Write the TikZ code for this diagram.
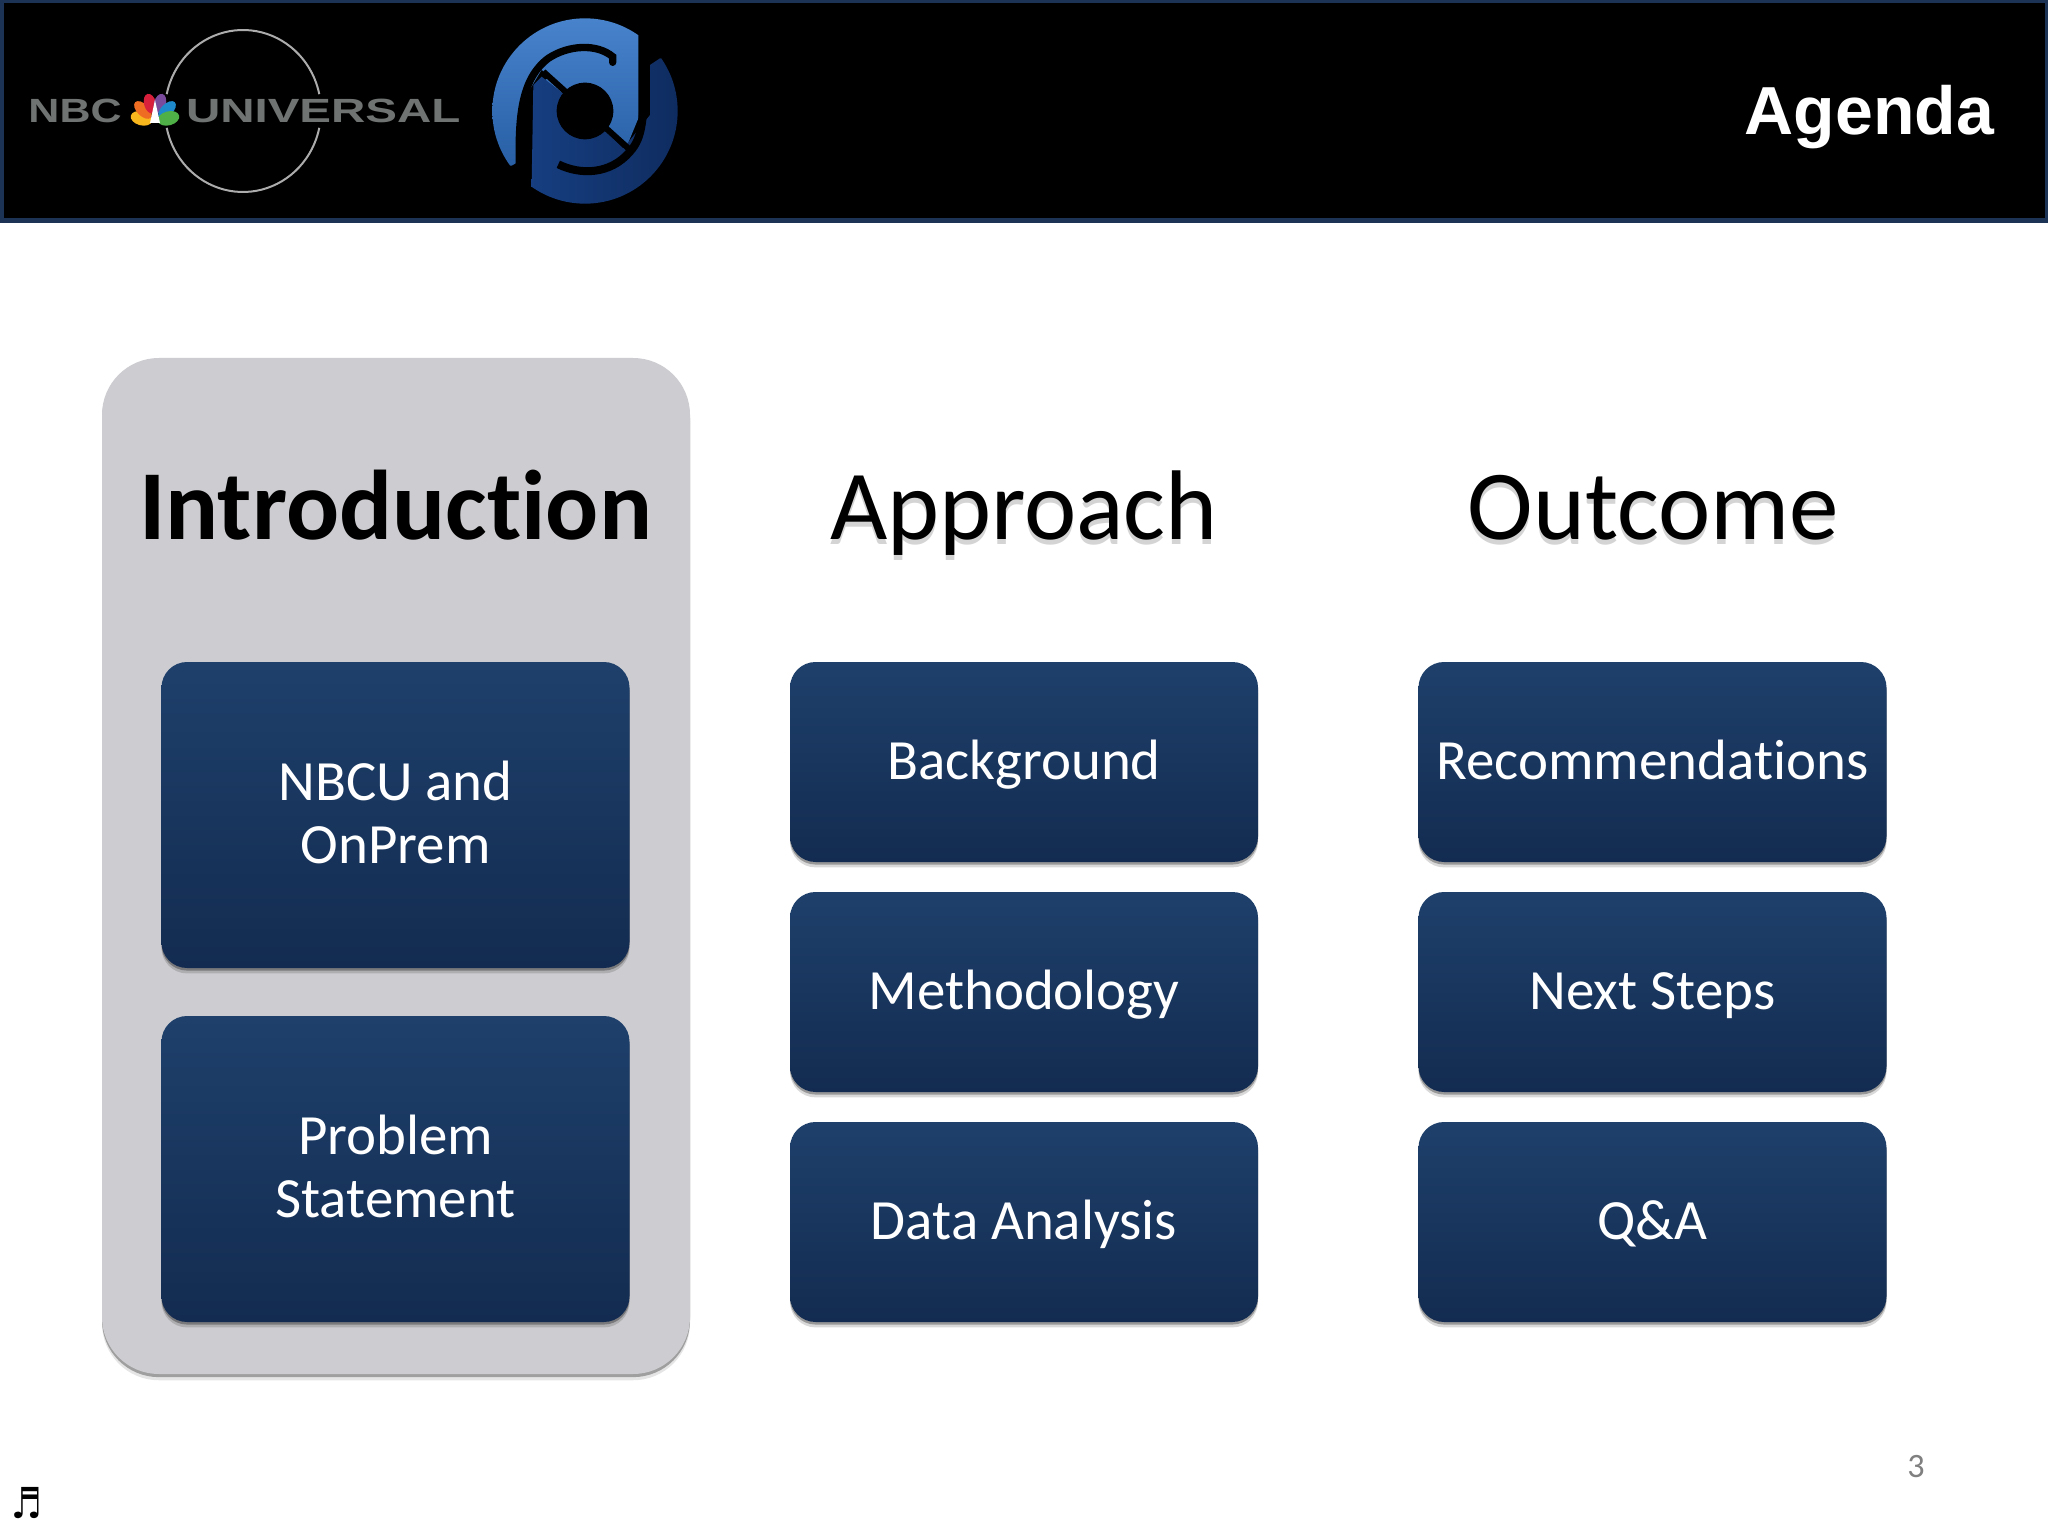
\documentclass[tikz,border=0pt]{standalone}
\usepackage{fontspec}
\usepackage{xcolor}
\usetikzlibrary{positioning,shadows}
\setmainfont{Carlito}[Ligatures=NoCommon]
\newfontfamily\headfont{Liberation Sans}
\newfontfamily\symbfont{DejaVu Sans}
\definecolor{barblue}{HTML}{1C3355}
\definecolor{boxtop}{HTML}{1E406B}
\definecolor{boxbottom}{HTML}{132B50}
\definecolor{panelgrey}{HTML}{CDCDD1}
\definecolor{logogrey}{HTML}{6F7371}
\definecolor{logolight}{RGB}{74,134,207}
\definecolor{logomid}{RGB}{40,95,165}
\definecolor{logodark}{RGB}{22,62,128}
\definecolor{logodeep}{RGB}{14,42,92}
\newcommand{\px}{0.3515625pt}
\newcommand{\softtext}[1]{\rlap{\raisebox{-1.5pt}{\color{black!17}#1}}#1}

\begin{document}
\begin{tikzpicture}[
	x=\px, y=-\px,
	every node/.style={outer sep=0pt, inner sep=0pt},
	panel/.style={fill=panelgrey, rounded corners=20pt, minimum width=588*\px, minimum height=1016*\px,
		drop shadow={shadow xshift=0pt, shadow yshift=-1.1pt, fill=black, opacity=.3},
		drop shadow={shadow xshift=0pt, shadow yshift=-2.2pt, fill=black, opacity=.1}},
	topic/.style={rounded corners=9pt, top color=boxtop, bottom color=boxbottom, text=white, align=center,
		minimum width=468*\px, font=\fontsize{20}{22}\selectfont,
		drop shadow={shadow xshift=0pt, shadow yshift=-.9pt, fill=black, opacity=.3},
		drop shadow={shadow xshift=0pt, shadow yshift=-1.9pt, fill=black, opacity=.15}},
	tall/.style={topic, minimum height=306*\px, text depth=1.9pt},
	small/.style={topic, minimum height=200*\px, text height=14pt, text depth=2pt},
	heading/.style={anchor=base, font=\fontsize{34.8}{40}\selectfont},
	]
	
	\useasboundingbox (0,0) rectangle (2048,1536);
	\fill[white] (0,0) rectangle (2048,1536);
	
	% Header bar
	\draw[fill=black, draw=barblue, line width=5*\px] (1,1) rectangle (2047,221);
	\node (agenda) [anchor=base east, text=white, font=\headfont\bfseries\fontsize{23.9}{28}\selectfont] at (1994,135) {Agenda};
	
	% NBC Universal logo
	\node (nbc) [anchor=base west, text=logogrey, xscale=1.28, font=\headfont\bfseries\fontsize{11.8}{14}\selectfont] at (28.5,123) {NBC};
	\node (universal) [anchor=base west, text=logogrey, xscale=1.415, font=\headfont\bfseries\fontsize{11.8}{14}\selectfont] at (186,123) {UNIVERSAL};
	\draw[gray!65, line width=2*\px] plot[domain=192:348, samples=40] ({243+78*cos(\x)},{111+81*sin(\x)});
	\draw[gray!65, line width=2*\px] plot[domain=12:168, samples=40] ({243+78*cos(\x)},{111+81*sin(\x)});
	\foreach \a/\d/\rx/\ry/\c in {165/14/11/7/F9B71E, 135/17/11/6/EF6C23, 105/19/10/6/D8203C, 75/19/10/6/7A4A9C, 45/17/11/6/1F8ACB, 15/14/11/7/4FB047}{
		\definecolor{petal}{HTML}{\c}
		\fill[petal, shift={(155,122)}, rotate=\a] (\d,0) ellipse ({\rx} and {\ry});
	}
	\fill[white] (150,123) -- (155,100) -- (160,123) -- cycle;
	
	% Blue logo, coordinates as read off a 3x crop
	\begin{scope}[shift={(480,5)}, x=\px/3, y=-\px/3]
		\clip (315,318) circle (278);
		\path[top color=logolight, bottom color=logomid]
			(95,482) -- (125,465) -- (315,318) -- (440,425) -- (475,340) -- (475,92) -- (475,0) -- (0,0) -- (0,482) -- cycle;
		\fill[black] (108,490) -- (122,300) -- (185,195) -- (210,215) -- (165,245) -- (155,540) -- cycle;
		\path[left color=logodark, right color=logodeep]
			(155,535) -- (160,240) -- (185,215) -- (315,318) -- (430,430) -- (510,330) -- (510,180) -- (540,160) -- (640,160) -- (640,640) -- (155,640) -- cycle;
		\draw[black, line width=22*\px/3, line cap=round] (118,480) .. controls (115,330) and (125,220) .. (205,160) .. controls (265,120) and (350,115) .. (398,155) -- (398,172);
		\draw[black, line width=24*\px/3] (235,478) .. controls (300,510) and (390,510) .. (450,440) .. controls (490,395) and (493,340) .. (492,150);
		\draw[black, line width=18*\px/3] (190,200) -- (445,430);
		\fill[black] (315,318) circle (85);
	\end{scope}
	
	% Introduction column
	\node (back) [panel] at (396,866) {};
	\node (intro) [heading, font=\bfseries\fontsize{34.8}{40}\selectfont] at (395.5,540) {Introduction};
	\node (nbcu) [tall] at (395.5,815) {NBCU and\\OnPrem};
	\node (problem) [tall, below=48*\px of nbcu] {Problem\\Statement};
	
	% Approach column
	\node (approach) [heading] at (1024,540) {\softtext{Approach}};
	\node (background) [small] at (1024,762) {Background};
	\node (method) [small, below=30*\px of background] {Methodology};
	\node (data) [small, below=30*\px of method] {Data Analysis};
	
	% Outcome column
	\node (outcome) [heading] at (1653.5,540) {\softtext{Outcome}};
	\node (recommend) [small] at (1652.5,762) {Recommendations};
	\node (next) [small, below=30*\px of recommend] {Next Steps};
	\node (qa) [small, below=30*\px of next] {Q\&A};
	
	% Footer
	\node (pagenum) [anchor=base, text=black!50, font=\fontsize{12}{14}\selectfont] at (1916,1477) {3};
	\node (note) [anchor=base west, xscale=.8, font=\symbfont\bfseries\fontsize{15}{16}\selectfont] at (11,1518) {♬};
	
\end{tikzpicture}
\end{document}
